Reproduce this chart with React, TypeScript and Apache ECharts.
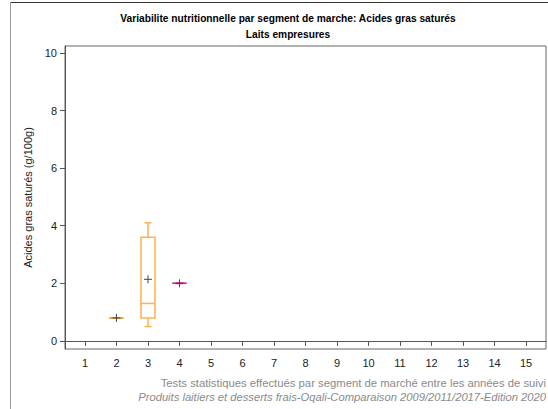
import React, { useEffect, useRef } from "react";
import * as echarts from "echarts";

const titleText = "Variabilite nutritionnelle par segment de marche: Acides gras saturés";
const subtitleText = "Laits empresures";
const yAxisName = "Acides gras saturés (g/100g)";
const footer1 = "Tests statistiques effectués par segment de marché entre les années de suivi";
const footer2 = "Produits laitiers et desserts frais-Oqali-Comparaison 2009/2011/2017-Edition 2020";

const xTicks = [1, 2, 3, 4, 5, 6, 7, 8, 9, 10, 11, 12, 13, 14, 15];
const yTicks = [0, 2, 4, 6, 8, 10];

const segments = [2, 3, 4];
const minVals = [0.8, 0.5, 2.0];
const q1Vals = [0.8, 0.8, 2.0];
const medianVals = [0.8, 1.3, 2.0];
const q3Vals = [0.8, 3.6, 2.0];
const maxVals = [0.8, 4.1, 2.0];
const meanVals = [0.8, 2.14, 2.0];
const boxColors = ["#F29A2E", "#FFB24C", "#D2329B"];

const FONT = "'Liberation Sans', Arial, sans-serif";

export default function App() {
  const ref = useRef<HTMLDivElement>(null);
  useEffect(() => {
    if (!ref.current) return;
    const chart = echarts.init(ref.current, null, { renderer: "svg" });
    const boxData = segments.map((s, i) => [s, minVals[i], q1Vals[i], medianVals[i], q3Vals[i], maxVals[i]]);
    const meanData = segments.map((s, i) => [s, meanVals[i]]);
    const option: any = {
      animation: false,
      textStyle: { fontFamily: FONT },
      grid: {
        left: 65,
        top: 46,
        right: 2,
        bottom: 60,
        show: true,
        borderColor: "#666",
        borderWidth: 1,
        backgroundColor: "transparent",
      },
      graphic: [
        { type: "line", shape: { x1: 10, y1: 2.5, x2: 548, y2: 2.5 }, style: { stroke: "#333", lineWidth: 1 } },
        { type: "line", shape: { x1: 10.5, y1: 2, x2: 10.5, y2: 409 }, style: { stroke: "#999", lineWidth: 1 } },
        {
          type: "text",
          x: 288,
          y: 18,
          style: { text: titleText, font: `bold 10.2px ${FONT}`, fill: "#000", textAlign: "center", textVerticalAlign: "middle" },
        },
        {
          type: "text",
          x: 288,
          y: 34,
          style: { text: subtitleText, font: `bold 10.2px ${FONT}`, fill: "#000", textAlign: "center", textVerticalAlign: "middle" },
        },
        {
          type: "text",
          x: 546,
          y: 383,
          style: { text: footer1, font: `11.3px ${FONT}`, fill: "#8a8a8a", textAlign: "right", textVerticalAlign: "middle" },
        },
        {
          type: "text",
          x: 546,
          y: 397,
          style: { text: footer2, font: `italic 11.2px ${FONT}`, fill: "#8a8a8a", textAlign: "right", textVerticalAlign: "middle" },
        },
      ],
      xAxis: {
        type: "value",
        min: 0.367,
        max: 15.633,
        axisLine: { show: true, lineStyle: { color: "#555" } },
        axisTick: { show: true, length: 5, customValues: xTicks, lineStyle: { color: "#555" } },
        axisLabel: { customValues: xTicks, color: "#222", fontSize: 11, fontFamily: FONT, margin: 8 },
        splitLine: { show: false },
      },
      yAxis: {
        type: "value",
        min: -0.28,
        max: 10.24,
        name: yAxisName,
        nameLocation: "middle",
        nameGap: 32,
        nameRotate: 90,
        nameTextStyle: { color: "#222", fontSize: 11, fontFamily: FONT },
        axisLine: { show: true, lineStyle: { color: "#555" } },
        axisTick: { show: true, length: 5, customValues: yTicks, lineStyle: { color: "#555" } },
        axisLabel: { customValues: yTicks, color: "#222", fontSize: 11, fontFamily: FONT, margin: 8 },
        splitLine: { show: false },
      },
      series: [
        {
          type: "custom",
          data: boxData,
          encode: { x: 0, y: [1, 2, 3, 4, 5] },
          renderItem: (params: any, api: any) => {
            const idx = params.dataIndex;
            const x = api.value(0);
            const pMin = api.coord([x, api.value(1)]);
            const pQ1 = api.coord([x, api.value(2)]);
            const pMed = api.coord([x, api.value(3)]);
            const pQ3 = api.coord([x, api.value(4)]);
            const pMax = api.coord([x, api.value(5)]);
            const cx = pMed[0];
            const hw = 7;
            const cw = 3.5;
            const color = boxColors[idx];
            const st = { stroke: color, lineWidth: 1.5, fill: "none" };
            return {
              type: "group",
              children: [
                { type: "line", shape: { x1: cx, y1: pMax[1], x2: cx, y2: pQ3[1] }, style: st },
                { type: "line", shape: { x1: cx, y1: pQ1[1], x2: cx, y2: pMin[1] }, style: st },
                { type: "line", shape: { x1: cx - cw, y1: pMax[1], x2: cx + cw, y2: pMax[1] }, style: st },
                { type: "line", shape: { x1: cx - cw, y1: pMin[1], x2: cx + cw, y2: pMin[1] }, style: st },
                {
                  type: "rect",
                  shape: { x: cx - hw, y: pQ3[1], width: hw * 2, height: pQ1[1] - pQ3[1] },
                  style: st,
                },
                { type: "line", shape: { x1: cx - hw, y1: pMed[1], x2: cx + hw, y2: pMed[1] }, style: st },
              ],
            };
          },
          z: 2,
        },
        {
          type: "custom",
          data: meanData,
          encode: { x: 0, y: 1 },
          renderItem: (params: any, api: any) => {
            const p = api.coord([api.value(0), api.value(1)]);
            const s = 4;
            const st = { stroke: "#444", lineWidth: 1, fill: "none" };
            return {
              type: "group",
              children: [
                { type: "line", shape: { x1: p[0] - s, y1: p[1], x2: p[0] + s, y2: p[1] }, style: st },
                { type: "line", shape: { x1: p[0], y1: p[1] - s, x2: p[0], y2: p[1] + s }, style: st },
              ],
            };
          },
          z: 3,
        },
      ],
    };
    chart.setOption(option);
    return () => chart.dispose();
  }, []);
  return <div ref={ref} style={{ width: 548, height: 409, position: "absolute", left: 0, top: 0 }} />;
}
